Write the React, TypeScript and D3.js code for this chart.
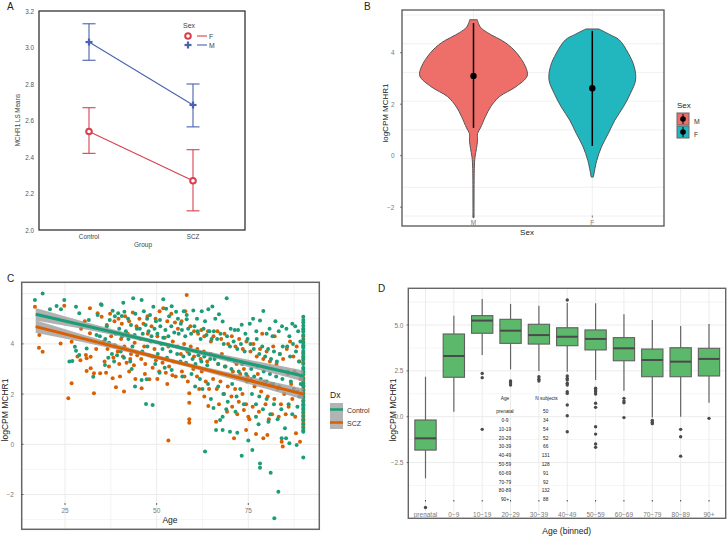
import React from "react";
import * as d3 from "d3";

const FONT = "'Liberation Sans', Arial, sans-serif";

// ---------- Panel A data ----------
const groupsA = ["Control", "SCZ"];
const meanF = [2.54, 2.27];
const lowF = [2.42, 2.105];
const highF = [2.67, 2.44];
const meanM = [3.03, 2.685];
const lowM = [2.93, 2.565];
const highM = [3.13, 2.8];
const ticksA = [2.0, 2.2, 2.4, 2.6, 2.8, 3.0, 3.2];

// ---------- Panel B data ----------
const sexB = ["M", "F"];
const violinMVals = [5.28, 5.0, 4.78, 4.38, 4.0, 3.45, 3.1, 2.68, 2.29, 1.9, 1.51, 1.08, 0.86, 0.6, 0.28, -0.05, -0.5, -2.4];
const violinMDens = [0.07, 0.125, 0.26, 0.6, 0.8, 0.97, 1.0, 0.79, 0.48, 0.32, 0.22, 0.13, 0.075, 0.075, 0.056, 0.028, 0.015, 0.01];
const violinFVals = [4.92, 4.7, 4.5, 3.98, 3.46, 2.94, 2.42, 1.9, 1.38, 0.87, 0.34, -0.18, -0.6, -0.83];
const violinFDens = [0.12, 0.33, 0.5, 0.67, 0.78, 0.806, 0.71, 0.58, 0.42, 0.3, 0.17, 0.084, 0.04, 0.02];
const meanB = [3.1, 2.62];
const lowB = [1.08, 0.38];
const highB = [5.15, 4.85];
const ticksB = [4, 2, 0, -2];
const gridB = [0, 1, 2, 3, 4, 5, 6, 7];

// ---------- Panel C data ----------
const controlPoints: [number, number][] = [
  [16.8,5.75],[18.9,6.01],[20.9,5.38],[22.7,5.51],[23.9,5.38],[24.8,5.75],[28,5.48],[28.9,5.22],[27.7,3.89],[28,3.73],[28.9,3.56],[27,3.32],[26.2,3.3],[30.9,3.82],[32.7,2.69],[33.6,4.35],[33.9,5.15],[34.8,5.58],[34.5,4.3],[31.5,4.95],
  [35,5.55],[36.4,4.7],[37.2,4.95],[38,5.32],[38.6,5.1],[39.5,5.22],[40.5,5.11],[40.9,5.64],[41.2,5.28],[42.2,5.0],[43.6,5.82],[44.2,5.2],[35.9,3.16],[36.8,3.45],[37.8,3.6],[38.4,3.3],[39.2,3.55],[40.2,3.7],[41.1,3.45],[36,4.2],[37,4.05],[38.8,4.4],[39.8,4.6],[40.6,4.3],[41.6,4.5],[42.3,4.2],[43,4.75],[43.4,3.9],[44,4.35],[44.6,4.6],[42.8,3.3],[44.1,2.3],[43.2,3.0],
  [45.9,5.75],[46.5,5.3],[47.4,5.0],[48.2,5.15],[49.1,5.48],[49.8,4.9],[50.9,4.95],[51.8,5.78],[52.6,5.4],[53.4,5.1],[54.1,5.5],[55.3,5.28],[45.4,4.6],[46.2,4.4],[47,4.75],[47.8,4.5],[48.6,4.3],[49.4,4.6],[50.2,4.4],[51,4.7],[51.8,4.25],[52.4,4.55],[53.2,4.3],[54,4.7],[54.8,4.45],[46.1,3.7],[47.5,3.9],[48.8,3.5],[50.3,3.6],[51.6,3.8],[52.8,3.45],[53.8,3.7],[54.1,2.96],[45.9,2.56],[47.3,2.59],[47.1,1.61],[48.9,1.57],[49.6,3.2],[52.2,3.05],[50.8,2.85],[54.6,3.3],
  [55.8,5.0],[56.6,4.8],[57.4,5.3],[58.2,5.15],[58.2,4.98],[60,5.33],[61,5.0],[62.3,5.3],[63.2,4.9],[64.1,5.38],[65.2,5.49],[56,4.4],[56.9,4.55],[57.8,4.3],[58.6,4.6],[59.4,4.4],[60.3,4.7],[61.2,4.5],[62,4.2],[62.8,4.6],[63.6,4.35],[64.4,4.5],[65,4.2],[55.6,3.6],[56.5,3.3],[57.3,3.5],[58,3.25],[58.9,3.6],[59.8,3.4],[60.6,3.2],[61.4,3.55],[62.2,3.3],[63,3.5],[63.8,3.15],[64.6,3.4],[57,2.7],[59.5,2.8],[61.8,2.6],[63.2,-0.29],[62.5,2.2],[64,2.4],[64.8,1.8],[60.5,2.3],
  [66,5.0],[67,5.18],[68,4.89],[69.1,5.82],[70.2,4.6],[71.3,4.55],[72.2,4.55],[73.2,4.76],[74.2,4.4],[65.6,4.5],[66.5,4.2],[67.4,4.4],[68.3,4.0],[69.2,4.3],[70,3.9],[71,4.1],[72,3.8],[73,4.0],[74,3.7],[74.8,4.2],[65.8,3.4],[66.8,3.2],[67.6,3.5],[68.6,3.1],[69.5,3.4],[70.4,3.0],[71.3,3.3],[72.4,2.9],[73.3,3.2],[74.4,2.8],[66.2,0.57],[67.3,0.97],[68,1.1],[68,0.57],[70,0.5],[72,0.46],[73.2,-0.46],[75,0.15],[65.5,1.45],[66.8,2.3],[68.2,2.0],[69.4,1.7],[70.6,2.4],[71.8,1.9],[72.8,2.2],[73.8,1.6],[74.6,2.5],[69,1.4],[71.5,1.3],
  [75.4,4.8],[76.3,5.0],[77.2,4.5],[78.2,4.93],[79.1,5.31],[80,4.4],[80.8,4.6],[81.6,4.3],[82.4,4.9],[83.3,4.5],[84.2,4.7],[75.6,4.0],[76.5,3.8],[77.3,4.2],[78,3.6],[78.8,3.9],[79.6,3.5],[80.4,3.8],[81.2,3.4],[82,3.7],[82.8,3.3],[83.6,3.6],[84.4,3.9],[75.8,3.0],[76.6,2.7],[77.5,3.1],[78.4,2.6],[79.2,2.9],[80,2.5],[80.9,2.8],[81.8,2.4],[82.6,2.7],[83.4,2.3],[84.3,2.6],[76,2.0],[77.1,1.6],[78,1.9],[79,1.4],[80,1.8],[81,1.2],[82,1.6],[83,1.0],[84,1.4],[76.1,-0.23],[77.1,1.1],[78.2,-0.76],[78.2,-0.93],[81.1,-1.13],[83.2,-1.89],[82.1,-2.95],[84.1,0.24],[85,0.64],[77.8,0.8],[80.5,0.9],
  [85.3,0.24],[86.2,0.04],[88.2,-0.03],[85.4,4.6],[86.2,4.3],[87,4.8],[87.8,4.7],[88.6,4.5],[85.6,3.9],[86.4,3.5],[87.2,4.0],[88,3.7],[88.8,3.3],[85.8,2.9],[86.6,2.5],[87.4,2.2],[88.2,2.8],[88.9,1.9],[86,1.6],[87,1.2],[88.4,1.5],[89.2,4.1],[89.3,2.4],
  [90,5.08],[90,4.95],[90,4.85],[90,4.72],[90,4.6],[90,4.48],[90,4.35],[90,4.2],[90,4.05],[90,3.95],[90,3.85],[90,3.72],[90,3.6],[90,3.5],[90,3.38],[90,3.2],[90,3.05],[90,2.9],[90,2.78],[90,2.6],[90,2.42],[90,2.3],[90,2.15],[90,2.0],[90,1.85],[90,1.7],[90,1.55],[90,1.4],[90,1.25],[90,1.1],[90,0.95],[90,0.8],[90,0.65],[90,0.5],[90,-0.53]
];
const sczPoints: [number, number][] = [
  [16.8,5.48],[18,4.35],[17.9,3.85],[18.9,3.69],[23.8,4.02],[24.8,5.52],[25.9,1.83],[26.8,4.09],[26.8,2.43],[28.4,3.5],[29.4,4.6],[30.4,4.9],[31.8,5.42],[33.9,5.22],[30.7,3.56],[30.9,3.43],[32,3.49],[30.9,2.92],[32,3.03],[32.9,2.83],[32.9,2.03],[31.8,4.42],[34.6,2.83],[33.5,3.8],[29.2,3.35],
  [35,5.08],[36.4,4.75],[37.3,5.2],[38.5,4.9],[39.6,5.0],[40.5,4.8],[41.4,5.1],[42.5,4.9],[43.5,5.25],[44.5,4.7],[35.6,4.1],[36.6,3.8],[37.6,4.3],[38.6,3.95],[39.4,3.7],[40.3,4.2],[41.2,3.9],[42.1,4.4],[43,3.6],[44,4.05],[35.8,3.3],[37,3.1],[38.2,3.45],[39.8,3.2],[40.8,3.5],[41.8,3.25],[42.8,3.4],[43.8,3.15],[44.7,3.55],[38,2.63],[38.9,2.27],[41.1,2.1],[40,2.7],[42.5,2.9],[44.2,2.6],[36.2,2.85],
  [45.3,5.0],[46.4,4.8],[47.5,5.1],[48.6,4.7],[49.7,5.0],[50.8,5.3],[51.8,5.42],[52.9,4.9],[54,5.2],[55,4.85],[45.6,4.2],[46.6,3.9],[47.6,4.4],[48.4,4.1],[49.4,3.8],[50.2,4.3],[51.2,4.0],[52.2,4.25],[53.2,3.9],[54.4,4.1],[45.8,3.4],[46.9,3.2],[47.9,3.55],[48.9,3.05],[49.8,3.35],[50.7,2.9],[51.6,3.25],[52.5,2.85],[53.4,3.1],[54.3,2.75],[45.9,2.23],[48,2.59],[46.8,2.8],[50.2,2.6],[52.9,2.4],[53.2,0.15],[55.2,2.7],
  [55.8,4.6],[56.8,4.9],[57.8,5.3],[58.2,5.95],[59.2,4.7],[60.2,4.5],[61.3,4.4],[62.2,4.55],[63,4.3],[64,4.5],[64.8,4.1],[55.7,3.9],[56.6,3.6],[57.5,4.0],[58.4,3.7],[59.3,3.9],[60.2,3.5],[61.1,3.8],[62,3.4],[62.9,3.7],[63.8,3.3],[64.7,3.6],[56.9,2.9],[57.6,2.7],[58.5,2.5],[60,3.0],[61,2.7],[62.3,2.9],[63.4,2.5],[64.3,2.2],[58.9,2.03],[58.9,1.66],[58.9,1.0],[58.9,0.86],[64.1,1.53],[61.6,2.2],[63,1.9],
  [65.5,4.3],[66.6,4.5],[67.6,4.2],[68.5,4.4],[69.5,4.0],[70.5,4.3],[71.5,3.9],[72.5,4.2],[73.5,3.8],[74.5,4.1],[65.8,3.5],[66.8,3.2],[67.8,3.6],[68.8,3.1],[69.8,3.4],[70.8,2.9],[71.8,3.2],[72.8,2.8],[73.8,3.0],[74.8,2.7],[65.4,2.6],[66.4,2.2],[67.4,2.5],[68.4,2.0],[69.4,2.3],[70.4,1.9],[71.4,2.2],[72.4,1.7],[73.4,2.0],[74.4,1.6],[66.2,0.9],[67,1.6],[69.2,1.3],[70.6,1.5],[71.1,0.24],[72,1.2],[73.8,1.37],[74.4,0.57],[75,1.1],
  [75.3,1.0],[77.1,0.41],[79.1,0.24],[80.2,0.37],[84.1,0.1],[84.4,-0.09],[75.6,3.7],[76.4,4.0],[77.3,3.5],[78.2,3.8],[79.1,3.4],[80,3.7],[80.9,3.3],[81.8,3.9],[82.7,3.2],[83.6,3.6],[84.5,3.4],[75.8,2.6],[76.7,2.3],[77.6,2.8],[78.5,2.1],[79.4,2.5],[80.3,1.9],[81.2,2.4],[82.1,1.8],[83,2.2],[83.9,1.6],[84.8,2.0],[76.2,1.5],[77.9,1.3],[79.7,1.6],[81.5,1.2],[83.3,1.1],[78.8,4.4],[82.2,4.3],[80.6,1.0],
  [85.5,3.8],[86.4,4.1],[87.3,3.5],[88.2,3.9],[89,3.3],[85.8,2.8],[86.7,2.4],[87.6,2.9],[88.5,2.1],[89.2,2.6],[86,1.5],[87,1.8],[88,0.44],[89.1,0.1],[85.2,1.2],[87.8,1.1],
  [90,4.55],[90,4.3],[90,4.1],[90,3.9],[90,3.65],[90,3.45],[90,3.25],[90,3.0],[90,2.85],[90,2.65],[90,2.5],[90,2.35],[90,2.2],[90,2.05],[90,1.9],[90,1.75],[90,1.6],[90,1.45],[90,1.3],[90,1.15],[90,1.0],[90,0.85],[90,0.7],[90,0.55]
];
const fitAges = [17, 90];
const fitControl = [5.18, 2.72];
const fitSCZ = [4.69, 2.0];
const bandAges = [17, 30, 45, 55, 65, 80, 90];
const bandHalf = [0.25, 0.15, 0.09, 0.08, 0.1, 0.17, 0.22];
const ticksCx = [25, 50, 75];
const ticksCy = [4, 2, 0, -2];
const gridCxMinor = [37.5, 62.5, 87.5];
const gridCyMajor = [6, 4, 2, 0, -2];
const gridCyMinor = [5, 3, 1, -1, -3];

// ---------- Panel D data ----------
const catsD = ["prenatal", "0\u22129", "10\u221219", "20\u221229", "30\u221239", "40\u221249", "50\u221259", "60\u221269", "70\u221279", "80\u221289", "90+"];
const q1D = [-1.82, 2.15, 4.55, 4.0, 3.96, 3.87, 3.64, 3.05, 2.18, 2.18, 2.22];
const medD = [-1.18, 3.31, 5.24, 4.69, 4.45, 4.36, 4.24, 3.73, 3.09, 3.0, 3.15];
const q3D = [-0.18, 4.51, 5.51, 5.31, 5.04, 4.85, 4.73, 4.31, 3.69, 3.76, 3.73];
const loD = [-3.36, 0.27, 3.36, 2.58, 2.49, 2.45, 2.0, 1.42, -0.05, 0.0, 0.76];
const hiD = [2.18, 5.51, 6.42, 6.15, 6.05, 6.2, 6.18, 5.58, 5.27, 4.95, 5.05];
const outD = [
  [-4.95], [], [2.36, 2.13, -0.69], [1.95, 1.85, 1.73], [2.18, 2.04, 1.95],
  [6.36, 2.22, 2.09, 2.0, 1.82, 1.73, 1.36, 1.27, 0.64, 0.05, -0.82],
  [1.55, 1.45, 1.36, 1.24, 0.73, 0.51, -0.55, -0.95, -1.49, -1.67],
  [1.0, 0.85, 0.76, -0.05], [-0.2, -0.3, -0.38], [-0.69, -1.09, -2.15], [-0.09]
];
const ticksDy = [5.0, 2.5, 0.0, -2.5];
const gridDyMinor = [6.25, 3.75, 1.25, -1.25, -3.75];
const tableAges = ["prenatal", "0-9", "10-19", "20-29", "30-39", "40-49", "50-59", "60-69", "70-79", "80-89", "90+"];
const tableN = [50, 34, 54, 52, 66, 131, 128, 91, 92, 132, 88];

const RED_A = "#d8404f";
const BLUE_A = "#4a62b0";
const GREEN = "#1b9e77";
const ORANGE = "#d95f02";
const GRID = "#ececec";
const TICK = "#7a7a7a";

const fmtMinus = (v: number, d = 0) => (v < 0 ? "\u2212" : "") + Math.abs(v).toFixed(d);

function PanelA() {
  const x = d3.scalePoint<string>().domain(groupsA).range([89, 193]);
  const y = d3.scaleLinear().domain([2, 3.2]).range([230, 11]);
  const series = [
    { key: "F", mean: meanF, lo: lowF, hi: highF, color: RED_A },
    { key: "M", mean: meanM, lo: lowM, hi: highM, color: BLUE_A },
  ];
  const line = d3.line<number>().x((_, i) => x(groupsA[i])!).y((d) => y(d));
  const plus = (cx: number, cy: number, c: string, k: string) => (
    <g key={k} fill={c}>
      <rect x={cx - 3.5} y={cy - 1.1} width={7} height={2.2} />
      <rect x={cx - 1.1} y={cy - 3.5} width={2.2} height={7} />
    </g>
  );
  const circ = (cx: number, cy: number, c: string, k: string) => (
    <circle key={k} cx={cx} cy={cy} r={2.8} fill="#fff" stroke={c} strokeWidth={2} />
  );
  return (
    <g>
      <text x={7} y={10} fontSize={10} fill="#222">A</text>
      {ticksA.map((t) => (
        <text key={t} x={34} y={y(t)} fontSize={6.3} textAnchor="end" dominantBaseline="central" fill="#555">{t.toFixed(1)}</text>
      ))}
      {series.map((s) => (
        <g key={s.key}>
          <path d={line(s.mean)!} fill="none" stroke={s.color} strokeWidth={1.1} />
          {s.mean.map((m, i) => {
            const cx = x(groupsA[i])!;
            return (
              <g key={i} stroke={s.color} strokeWidth={1.1}>
                <line x1={cx} x2={cx} y1={y(s.lo[i])} y2={y(s.hi[i])} />
                <line x1={cx - 6.5} x2={cx + 6.5} y1={y(s.lo[i])} y2={y(s.lo[i])} />
                <line x1={cx - 6.5} x2={cx + 6.5} y1={y(s.hi[i])} y2={y(s.hi[i])} />
              </g>
            );
          })}
          {s.mean.map((m, i) =>
            s.key === "F" ? circ(x(groupsA[i])!, y(m), s.color, "c" + i) : plus(x(groupsA[i])!, y(m), s.color, "p" + i)
          )}
        </g>
      ))}
      <rect x={39} y={11} width={206} height={219} fill="none" stroke="#222" strokeWidth={1.2} />
      {groupsA.map((g) => (
        <text key={g} x={x(g)} y={236} fontSize={6.3} textAnchor="middle" dominantBaseline="central" fill="#444">{g}</text>
      ))}
      <text x={143} y={244} fontSize={6.5} textAnchor="middle" dominantBaseline="central" fill="#444">Group</text>
      <text transform="translate(17,120) rotate(-90)" fontSize={6.3} textAnchor="middle" dominantBaseline="central" fill="#444">MCHR1 LS Means</text>
      <text x={183} y={25} fontSize={7} dominantBaseline="central" fill="#444">Sex</text>
      <line x1={197} x2={207} y1={36} y2={36} stroke={RED_A} strokeWidth={1.1} />
      {circ(188, 36, RED_A, "lf")}
      <text x={209} y={36} fontSize={6.8} dominantBaseline="central" fill="#444">F</text>
      <line x1={197} x2={207} y1={45} y2={45} stroke={BLUE_A} strokeWidth={1.1} />
      {plus(188, 45, BLUE_A, "lm")}
      <text x={209} y={45} fontSize={6.8} dominantBaseline="central" fill="#444">M</text>
    </g>
  );
}

function PanelB() {
  const x = d3.scalePoint<string>().domain(sexB).range([473.5, 592.3]);
  const y = d3.scaleLinear().domain([0, 4]).range([155.7, 52.7]);
  const yGrid = d3.scaleLinear().domain([0, 7]).range([15, 216]);
  const wScale = d3.scaleLinear().domain([0, 1]).range([0, 53.7]);
  const violins = [
    { key: "M", vals: violinMVals, dens: violinMDens, fill: "#ee6f6a" },
    { key: "F", vals: violinFVals, dens: violinFDens, fill: "#22b7bf" },
  ];
  return (
    <g>
      <text x={364} y={10} fontSize={10} fill="#222">B</text>
      {gridB.map((g) => (
        <line key={g} x1={402} x2={664} y1={yGrid(g)} y2={yGrid(g)} stroke={GRID} strokeWidth={0.8} />
      ))}
      {sexB.map((s) => (
        <line key={s} x1={x(s)} x2={x(s)} y1={10} y2={226} stroke={GRID} strokeWidth={0.8} />
      ))}
      {violins.map((v) => {
        const cx = x(v.key)!;
        const area = d3
          .area<number>()
          .y((_, i) => y(v.vals[i]))
          .x0((d) => cx - wScale(d))
          .x1((d) => cx + wScale(d))
          .curve(d3.curveCatmullRom);
        return <path key={v.key} d={area(v.dens)!} fill={v.fill} stroke="#555" strokeWidth={1} />;
      })}
      {sexB.map((s, i) => (
        <g key={s}>
          <line x1={x(s)} x2={x(s)} y1={y(lowB[i])} y2={y(highB[i])} stroke="#000" strokeWidth={1.5} />
          <circle cx={x(s)} cy={y(meanB[i])} r={3.2} fill="#000" />
        </g>
      ))}
      <rect x={402} y={10} width={262} height={216} fill="none" stroke="#555" strokeWidth={1.3} />
      {ticksB.map((t) => (
        <g key={t}>
          <line x1={400} x2={402} y1={y(t)} y2={y(t)} stroke="#555" strokeWidth={0.8} />
          <text x={394.5} y={y(t)} fontSize={6.5} textAnchor="end" dominantBaseline="central" fill={TICK}>{fmtMinus(t)}</text>
        </g>
      ))}
      {sexB.map((s) => (
        <g key={s}>
          <line x1={x(s)} x2={x(s)} y1={215.5} y2={217.5} stroke="#555" strokeWidth={0.8} />
          <text x={x(s)} y={222.5} fontSize={6.5} textAnchor="middle" dominantBaseline="central" fill={TICK}>{s}</text>
        </g>
      ))}
      <text x={527} y={232} fontSize={8} textAnchor="middle" dominantBaseline="central" fill="#222">Sex</text>
      <text transform="translate(385,113) rotate(-90)" fontSize={8} textAnchor="middle" dominantBaseline="central" fill="#222">logCPM MCHR1</text>
      <text x={677} y={105} fontSize={8} dominantBaseline="central" fill="#222">Sex</text>
      {sexB.map((s, i) => {
        const ky = 113 + i * 13;
        return (
          <g key={s}>
            <rect x={677} y={ky} width={12} height={12} fill={violins[i].fill} stroke="#666" strokeWidth={1} />
            <line x1={683} x2={683} y1={ky + 1} y2={ky + 11} stroke="#000" strokeWidth={1} />
            <circle cx={683} cy={ky + 6} r={2.8} fill="#000" />
            <text x={694} y={ky + 8} fontSize={6.8} dominantBaseline="central" fill="#333">{s}</text>
          </g>
        );
      })}
    </g>
  );
}

function PanelC() {
  const x = d3.scaleLinear().domain([25, 75]).range([65, 248.3]);
  const y = d3.scaleLinear().domain([0, 4]).range([444.3, 343.9]);
  const fits = [
    { key: "SCZ", vals: fitSCZ, color: ORANGE },
    { key: "Control", vals: fitControl, color: GREEN },
  ];
  const fitAt = (vals: number[], a: number) =>
    d3.scaleLinear().domain(fitAges).range(vals)(a);
  return (
    <g>
      <defs>
        <clipPath id="clipC">
          <rect x={21.7} y={282.3} width={297.6} height={247} />
        </clipPath>
      </defs>
      <text x={7} y={282} fontSize={10} fill="#222">C</text>
      <g clipPath="url(#clipC)">
        {gridCyMinor.map((g) => (
          <line key={"m" + g} x1={21.7} x2={319.3} y1={y(g)} y2={y(g)} stroke={GRID} strokeWidth={0.6} />
        ))}
        {gridCyMajor.map((g) => (
          <line key={"M" + g} x1={21.7} x2={319.3} y1={y(g)} y2={y(g)} stroke={GRID} strokeWidth={1} />
        ))}
        {gridCxMinor.map((g) => (
          <line key={"xm" + g} x1={x(g)} x2={x(g)} y1={282.3} y2={529.3} stroke={GRID} strokeWidth={0.6} />
        ))}
        {ticksCx.map((g) => (
          <line key={"xM" + g} x1={x(g)} x2={x(g)} y1={282.3} y2={529.3} stroke={GRID} strokeWidth={1} />
        ))}
        {sczPoints.map((p, i) => (
          <circle key={"o" + i} cx={x(p[0])} cy={y(p[1])} r={2} fill={ORANGE} />
        ))}
        {controlPoints.map((p, i) => (
          <circle key={"g" + i} cx={x(p[0])} cy={y(p[1])} r={2} fill={GREEN} />
        ))}
        {fits.map((f) => {
          const band = d3
            .area<number>()
            .x((_, i) => x(bandAges[i]))
            .y0((h, i) => y(fitAt(f.vals, bandAges[i]) - h))
            .y1((h, i) => y(fitAt(f.vals, bandAges[i]) + h))
            .curve(d3.curveMonotoneX);
          return <path key={"b" + f.key} d={band(bandHalf)!} fill="#9d9d9d" opacity={0.8} />;
        })}
        {fits.map((f) => {
          const ln = d3.line<number>().x((_, i) => x(fitAges[i])).y((d) => y(d));
          return <path key={"l" + f.key} d={ln(f.vals)!} stroke={f.color} strokeWidth={3} fill="none" />;
        })}
      </g>
      <rect x={21.7} y={282.3} width={297.6} height={247} fill="none" stroke="#666" strokeWidth={1.5} />
      {ticksCy.map((t) => (
        <g key={t}>
          <line x1={21.7} x2={23.5} y1={y(t)} y2={y(t)} stroke="#444" strokeWidth={0.8} />
          <text x={14} y={y(t)} fontSize={6.5} textAnchor="end" dominantBaseline="central" fill={TICK}>{fmtMinus(t)}</text>
        </g>
      ))}
      {ticksCx.map((t) => (
        <g key={t}>
          <line x1={x(t)} x2={x(t)} y1={503} y2={505} stroke="#444" strokeWidth={0.8} />
          <text x={x(t)} y={510.5} fontSize={6.5} textAnchor="middle" dominantBaseline="central" fill={TICK}>{t}</text>
        </g>
      ))}
      <text x={170} y={520} fontSize={8.5} textAnchor="middle" dominantBaseline="central" fill="#222">Age</text>
      <text transform="translate(5,410) rotate(-90)" fontSize={8.5} textAnchor="middle" dominantBaseline="central" fill="#222">logCPM MCHR1</text>
      <text x={330} y={395} fontSize={8.5} dominantBaseline="central" fill="#222">Dx</text>
      {[
        { label: "Control", color: GREEN },
        { label: "SCZ", color: ORANGE },
      ].map((k, i) => {
        const ky = 403 + i * 13;
        return (
          <g key={k.label}>
            <rect x={330} y={ky} width={13} height={13} fill="#b3b3b3" />
            <line x1={330} x2={343} y1={ky + 6.5} y2={ky + 6.5} stroke={k.color} strokeWidth={2.5} />
            <text x={347} y={ky + 7.5} fontSize={7} dominantBaseline="central" fill="#333">{k.label}</text>
          </g>
        );
      })}
    </g>
  );
}

function PanelD() {
  const x = d3.scalePoint<string>().domain(catsD).range([425.5, 709]);
  const y = d3.scaleLinear().domain([0, 5]).range([416.7, 325]);
  const bw = 21.3;
  const L = 408.3, T = 288.3, R = 725.7, B = 518.3;
  return (
    <g>
      <text x={378} y={292} fontSize={10} fill="#222">D</text>
      {gridDyMinor.map((g) => (
        <line key={"m" + g} x1={L} x2={R} y1={y(g)} y2={y(g)} stroke={GRID} strokeWidth={0.6} />
      ))}
      {ticksDy.map((g) => (
        <line key={"M" + g} x1={L} x2={R} y1={y(g)} y2={y(g)} stroke={GRID} strokeWidth={1} />
      ))}
      {catsD.map((c) => (
        <line key={c} x1={x(c)} x2={x(c)} y1={T} y2={B} stroke={GRID} strokeWidth={1} />
      ))}
      {catsD.map((c, i) => {
        const cx = x(c)!;
        return (
          <g key={c}>
            <line x1={cx} x2={cx} y1={y(hiD[i])} y2={y(q3D[i])} stroke="#666" strokeWidth={1.2} />
            <line x1={cx} x2={cx} y1={y(q1D[i])} y2={y(loD[i])} stroke="#666" strokeWidth={1.2} />
            <rect x={cx - bw / 2} y={y(q3D[i])} width={bw} height={y(q1D[i]) - y(q3D[i])} fill="#5cb86a" stroke="#5f5f5f" strokeWidth={1.1} />
            <line x1={cx - bw / 2} x2={cx + bw / 2} y1={y(medD[i])} y2={y(medD[i])} stroke="#4a4a4a" strokeWidth={2} />
            {outD[i].map((o, j) => (
              <circle key={j} cx={cx} cy={y(o)} r={1.7} fill="#4a4a4a" />
            ))}
          </g>
        );
      })}
      <rect x={L} y={T} width={R - L} height={B - T} fill="none" stroke="#666" strokeWidth={1.4} />
      {ticksDy.map((t) => (
        <g key={t}>
          <line x1={406.5} x2={L} y1={y(t)} y2={y(t)} stroke="#555" strokeWidth={0.8} />
          <text x={403.5} y={y(t)} fontSize={6.5} textAnchor="end" dominantBaseline="central" fill={TICK}>{fmtMinus(t, 1)}</text>
        </g>
      ))}
      {catsD.map((c) => (
        <g key={c}>
          <line x1={x(c)} x2={x(c)} y1={500} y2={501.5} stroke="#444" strokeWidth={1} />
          <text x={x(c)} y={514.8} fontSize={6.5} textAnchor="middle" dominantBaseline="central" fill={TICK}>{c}</text>
        </g>
      ))}
      <text x={566.7} y={531} fontSize={8.5} textAnchor="middle" dominantBaseline="central" fill="#222">Age (binned)</text>
      <text transform="translate(393,410) rotate(-90)" fontSize={8.5} textAnchor="middle" dominantBaseline="central" fill="#222">logCPM MCHR1</text>
      <text x={505} y={398.7} fontSize={4.8} textAnchor="middle" dominantBaseline="central" fill="#222">Age</text>
      <text x={546.5} y={398.7} fontSize={4.8} textAnchor="middle" dominantBaseline="central" fill="#222">N subjects</text>
      {tableAges.map((a, i) => (
        <g key={a}>
          <text x={505} y={411.7 + i * 8.8} fontSize={4.8} textAnchor="middle" dominantBaseline="central" fill="#222">{a}</text>
          <text x={545.7} y={411.7 + i * 8.8} fontSize={4.8} textAnchor="middle" dominantBaseline="central" fill="#222">{tableN[i]}</text>
        </g>
      ))}
    </g>
  );
}

export default function App() {
  return (
    <svg width={727} height={537} style={{ position: "absolute", left: 0, top: 0, background: "#fff" }} fontFamily={FONT}>
      <rect width={727} height={537} fill="#fff" />
      <PanelA />
      <PanelB />
      <PanelC />
      <PanelD />
    </svg>
  );
}
